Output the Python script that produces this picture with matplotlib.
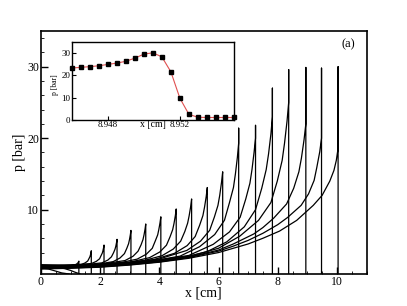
import matplotlib
matplotlib.use('Agg')
import matplotlib.pyplot as plt
from matplotlib.ticker import MultipleLocator

plt.rcParams['font.family'] = ['Liberation Serif', 'DejaVu Serif']

# pressure profiles p(x) at successive times
# each entry: (x [cm], p [bar]) ; every profile drops to ambient at its front
x_e1 = [0, 0.25, 0.5, 0.7, 0.95]
p_e1 = [1.85, 1.7, 1.4, 1.15, 1.0]
x_e2 = [0, 0.5, 0.8, 1.0, 1.15, 1.32]
p_e2 = [2.0, 1.95, 1.75, 1.5, 1.25, 1.0]

x_c1 = [0, 0.6, 1.03, 1.19, 1.245, 1.272, 1.28, 1.28]
p_c1 = [2.3, 2.2, 2.2, 2.35, 2.54, 2.72, 2.8, 1.0]
x_c2 = [0, 0.8, 1.36, 1.49, 1.58, 1.62, 1.655, 1.672, 1.689, 1.70, 1.70]
p_c2 = [2.25, 2.2, 2.32, 2.55, 2.82, 3.14, 3.43, 3.68, 3.98, 4.25, 1.0]
x_c3 = [0, 1, 1.71, 1.87, 1.98, 2.03, 2.074, 2.095, 2.116, 2.13, 2.13]
p_c3 = [2.2, 2.25, 2.47, 2.77, 3.13, 3.57, 3.95, 4.28, 4.69, 5.05, 1.0]
x_c4 = [0, 1, 1.6, 2.06, 2.26, 2.38, 2.45, 2.50, 2.528, 2.553, 2.57, 2.57]
p_c4 = [2.15, 2.2, 2.35, 2.56, 2.95, 3.4, 3.96, 4.45, 4.87, 5.4, 5.85, 1.0]
x_c5 = [0, 1, 1.9, 2.44, 2.67, 2.82, 2.90, 2.96, 2.99, 3.02, 3.04, 3.04]
p_c5 = [2.15, 2.2, 2.35, 2.73, 3.24, 3.85, 4.59, 5.24, 5.8, 6.5, 7.1, 1.0]
x_c6 = [0, 1, 2, 2.84, 3.11, 3.28, 3.38, 3.447, 3.482, 3.517, 3.54, 3.54]
p_c6 = [2.1, 2.15, 2.35, 2.88, 3.48, 4.19, 5.06, 5.82, 6.47, 7.29, 8.0, 1.0]
x_c7 = [0, 1, 2, 2.7, 3.25, 3.56, 3.76, 3.86, 3.944, 3.983, 4.023, 4.05, 4.05]
p_c7 = [2.1, 2.15, 2.35, 2.6, 3.08, 3.77, 4.59, 5.6, 6.48, 7.24, 8.18, 9.0, 1.0]
x_c8 = [0, 1, 2, 3, 3.67, 4.015, 4.24, 4.36, 4.45, 4.495, 4.54, 4.57, 4.57]
p_c8 = [2.05, 2.1, 2.3, 2.65, 3.29, 4.08, 5.03, 6.19, 7.2, 8.07, 9.16, 10.1, 1.0]
x_c9 = [0, 1, 2, 3, 3.5, 4.09, 4.47, 4.72, 4.86, 4.956, 5.006, 5.057, 5.09, 5.09]
p_c9 = [2.05, 2.1, 2.3, 2.65, 2.9, 3.56, 4.49, 5.59, 6.94, 8.12, 9.13, 10.4, 11.5, 1.0]
x_c10 = [0, 1, 2, 3, 3.8, 4.51, 4.94, 5.21, 5.36, 5.472, 5.527, 5.583, 5.62, 5.62]
p_c10 = [2.0, 2.05, 2.25, 2.6, 3.0, 3.89, 4.97, 6.24, 7.81, 9.18, 10.36, 11.83, 13.1, 1.0]
x_c11 = [0, 1, 2, 3, 4, 4.93, 5.39, 5.70, 5.86, 5.98, 6.04, 6.10, 6.14, 6.14]
p_c11 = [2.0, 2.05, 2.25, 2.6, 3.1, 4.3, 5.59, 7.11, 8.98, 10.6, 12.0, 13.8, 15.3, 1.0]
x_c12 = [0, 1, 2, 3, 4, 4.7, 5.36, 5.87, 6.2, 6.37, 6.504, 6.57, 6.636, 6.68, 6.68, 6.68]
p_c12 = [1.9, 2.0, 2.2, 2.55, 3.0, 3.5, 4.82, 6.52, 8.52, 11.0, 13.1, 15.0, 17.3, 19.3, 21.4, 1.0]
x_c13 = [0, 1, 2, 3, 4, 5, 5.82, 6.37, 6.73, 6.92, 7.06, 7.13, 7.20, 7.25, 7.25, 7.25]
p_c13 = [1.9, 2.0, 2.15, 2.5, 2.95, 3.6, 5.15, 6.89, 8.94, 11.5, 13.7, 15.6, 18.0, 20.0, 21.8, 1.0]
x_c14 = [0, 1, 2, 3, 4, 5, 5.6, 6.28, 6.87, 7.25, 7.46, 7.61, 7.69, 7.77, 7.82, 7.82, 7.82]
p_c14 = [1.85, 1.95, 2.1, 2.45, 2.85, 3.5, 4.1, 5.5, 7.6, 10.0, 13.0, 15.6, 17.8, 20.6, 23.0, 27.0, 1.0]
x_c15 = [0, 1, 2, 3, 4, 5, 6, 6.72, 7.35, 7.77, 7.985, 8.15, 8.23, 8.315, 8.37, 8.37, 8.37]
p_c15 = [1.8, 1.9, 2.1, 2.4, 2.8, 3.45, 4.6, 6.3, 8.5, 11.0, 14.0, 16.9, 19.3, 22.4, 25.0, 29.6, 1.0]
x_c16 = [0, 1, 2, 3, 4, 5, 6, 6.5, 7.19, 7.5, 7.86, 8.3, 8.54, 8.715, 8.80, 8.89, 8.95, 8.95, 8.95]
p_c16 = [1.8, 1.9, 2.05, 2.35, 2.75, 3.35, 4.35, 5.2, 6.6, 7.5, 8.8, 10.8, 13.0, 15.3, 17.2, 19.8, 22.0, 29.9, 1.0]
x_c17 = [0, 1, 2, 3, 4, 5, 6, 6.5, 7, 7.5, 8.0, 8.33, 8.79, 9.04, 9.23, 9.32, 9.42, 9.48, 9.48, 9.48]
p_c17 = [1.75, 1.85, 2.0, 2.3, 2.7, 3.3, 4.2, 4.9, 5.7, 6.7, 7.9, 8.9, 10.6, 12.2, 14.1, 15.9, 18.1, 20.0, 29.8, 1.0]
x_c18 = [0, 1, 2, 3, 4, 5, 6, 6.5, 7, 7.5, 8.06, 8.64, 9.2, 9.5, 9.76, 9.9, 9.98, 10.04, 10.04, 10.04]
p_c18 = [1.7, 1.8, 1.95, 2.25, 2.65, 3.2, 4.0, 4.6, 5.2, 6.0, 7.0, 8.5, 10.6, 12.0, 14.0, 15.5, 16.9, 18.6, 30.0, 1.0]

profiles_x = [x_e1, x_e2, x_c1, x_c2, x_c3, x_c4, x_c5, x_c6, x_c7, x_c8, x_c9,
              x_c10, x_c11, x_c12, x_c13, x_c14, x_c15, x_c16, x_c17, x_c18]
profiles_p = [p_e1, p_e2, p_c1, p_c2, p_c3, p_c4, p_c5, p_c6, p_c7, p_c8, p_c9,
              p_c10, p_c11, p_c12, p_c13, p_c14, p_c15, p_c16, p_c17, p_c18]

# zoom on the front near x = 8.95 cm (inset)
x_zoom = [8.946, 8.9465, 8.947, 8.9475, 8.948, 8.9485, 8.949, 8.9495, 8.95, 8.9505,
          8.951, 8.9515, 8.952, 8.9525, 8.953, 8.9535, 8.954, 8.9545, 8.955]
p_zoom = [23.2, 23.5, 23.8, 24.2, 24.8, 25.4, 26.2, 27.6, 29.4, 30.0,
          28.2, 21.5, 9.7, 2.5, 1.2, 1.1, 1.1, 1.1, 1.1]

fig = plt.figure(figsize=(4.07, 3.06), dpi=100)
ax = fig.add_axes([0.1007, 0.1046, 0.7998, 0.7941])

for xs, ps in zip(profiles_x, profiles_p):
    ax.plot(xs, ps, color='black', lw=0.9)

ax.set_xlim(0, 11)
ax.set_ylim(1, 35)
ax.xaxis.set_major_locator(MultipleLocator(2))
ax.xaxis.set_minor_locator(MultipleLocator(0.5))
ax.yaxis.set_major_locator(MultipleLocator(10))
ax.yaxis.set_minor_locator(MultipleLocator(2))
ax.tick_params(which='both', direction='in', labelsize=8.5, pad=1.5)
ax.tick_params(which='major', length=5, width=1)
ax.tick_params(which='minor', length=2.5, width=0.6)
for s in ax.spines.values():
    s.set_linewidth(1.2)
ax.set_xlabel('x [cm]', fontsize=10, labelpad=-1)
ax.set_ylabel('p [bar]', fontsize=10, labelpad=0.5)
ax.text(0.965, 0.945, '(a)', transform=ax.transAxes, ha='right', va='center', fontsize=9)

ins = fig.add_axes([0.176, 0.608, 0.399, 0.256])
ins.plot(x_zoom, p_zoom, color='#e05050', lw=0.8)
ins.plot(x_zoom, p_zoom, ls='none', marker='s', ms=3.3, color='black', clip_on=False)
ins.set_xlim(8.946, 8.955)
ins.set_ylim(0, 35)
ins.set_xticks([8.948, 8.952])
ins.set_xticklabels(['8.948', '8.952'])
ins.set_yticks([0, 10, 20, 30])
ins.tick_params(direction='in', labelsize=6.5, length=3, pad=1)
for s in ins.spines.values():
    s.set_linewidth(1.0)
ins.set_xlabel('x [cm]', fontsize=7, labelpad=-7)
ins.set_ylabel('p [bar]', fontsize=5.5)
ins.yaxis.set_label_coords(-0.075, 0.45)

fig.savefig('out.png', dpi=100)
